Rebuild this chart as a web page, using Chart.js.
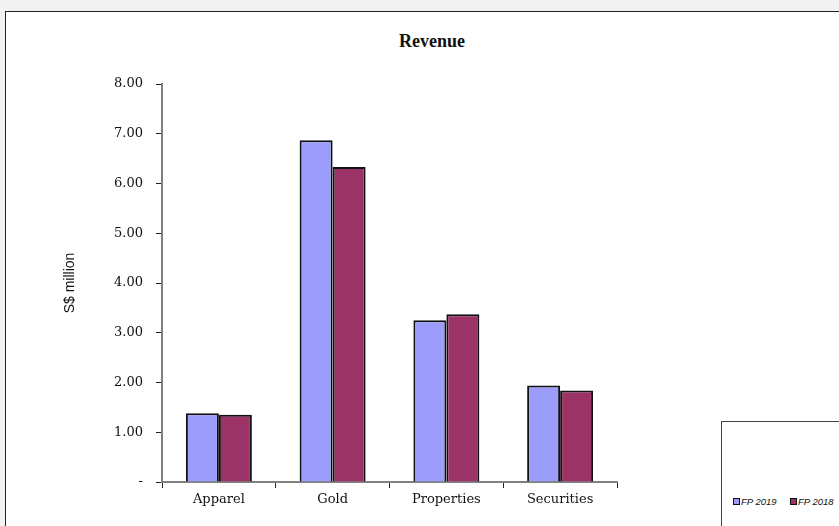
<!DOCTYPE html>
<html>
<head>
<meta charset="utf-8">
<script src="https://cdn.jsdelivr.net/npm/chart.js@4.4.1/dist/chart.umd.min.js"></script>
<style>
  html, body { margin: 0; padding: 0; background: #f2f2f2; overflow: hidden; }
  #frame { position: absolute; left: 5px; top: 11px; width: 860px; height: 540px; background: #fff; border: 1.5px solid #222; }
  #wrap { position: absolute; left: 0; top: 0; width: 839px; height: 526px; }
  #title { position: absolute; left: 0; width: 864px; top: 31px; text-align: center; font: bold 18px "Liberation Serif", serif; color: #111; }
  #legend { position: absolute; left: 721px; top: 421px; width: 140px; height: 120px; border: 1px solid #444; background: #fff; font: italic 9.5px "Liberation Sans", Arial, sans-serif; color: #111; }
  .item { position: absolute; top: 74px; white-space: nowrap; }
  .sw { display: inline-block; width: 5px; height: 5px; border: 1px solid #111; margin-right: 1px; vertical-align: 0px; }
</style>
</head>
<body>
<div id="frame"></div>
<div id="title">Revenue</div>
<div id="wrap"><canvas id="revChart" width="839" height="526"></canvas></div>
<div id="legend"></div>
<script>
const categories = ['Apparel', 'Gold', 'Properties', 'Securities'];
const fp2019 = [1.38, 6.87, 3.25, 1.94];
const fp2018 = [1.35, 6.33, 3.37, 1.84];
const seriesNames = ['FP 2019', 'FP 2018'];
const seriesColors = ['#9c9cfa', '#9b3366'];

const legendEl = document.getElementById('legend');
seriesNames.forEach((name, i) => {
  const item = document.createElement('div');
  item.className = 'item';
  item.style.left = (11 + i * 57) + 'px';
  item.innerHTML = '<span class="sw" style="background:' + seriesColors[i] + '"></span>' + name;
  legendEl.appendChild(item);
});

const ctx = document.getElementById('revChart');

new Chart(ctx, {
  type: 'bar',
  data: {
    labels: categories,
    datasets: [
      { label: seriesNames[0], data: fp2019, backgroundColor: seriesColors[0], borderColor: '#111', borderWidth: 2 },
      { label: seriesNames[1], data: fp2018, backgroundColor: seriesColors[1], borderColor: '#111', borderWidth: 2 }
    ]
  },
  options: {
    responsive: false,
    animation: false,
    layout: { padding: { left: 62, right: 222, top: 84, bottom: 0 } },
    datasets: { bar: { categoryPercentage: 0.58, barPercentage: 1 } },
    plugins: {
      legend: { display: false },
      title: { display: false },
      tooltip: { enabled: false }
    },
    scales: {
      x: {
        grid: { offset: true, drawOnChartArea: false, tickLength: 6, color: '#222', tickWidth: 1 },
        border: { color: '#808080', width: 2 },
        ticks: { color: '#111', padding: 4, font: { family: '"DejaVu Serif", serif', size: 13 } },
        afterFit: (scale) => { scale.height = 44; }
      },
      y: {
        min: 0,
        max: 8,
        grid: { drawOnChartArea: false, tickLength: 6, color: '#222', tickWidth: 1 },
        border: { color: '#808080', width: 2 },
        ticks: {
          stepSize: 1,
          color: '#111',
          padding: 13,
          font: { family: '"DejaVu Serif", serif', size: 13 },
          callback: (v) => v === 0 ? '-' : v.toFixed(2)
        },
        title: {
          display: true,
          text: 'S$ million',
          color: '#111',
          padding: { top: 0, bottom: 0 },
          font: { family: '"Liberation Sans", Arial, sans-serif', size: 14 }
        },
        afterFit: (scale) => { scale.width = 100; }
      }
    }
  }
});
</script>
</body>
</html>
